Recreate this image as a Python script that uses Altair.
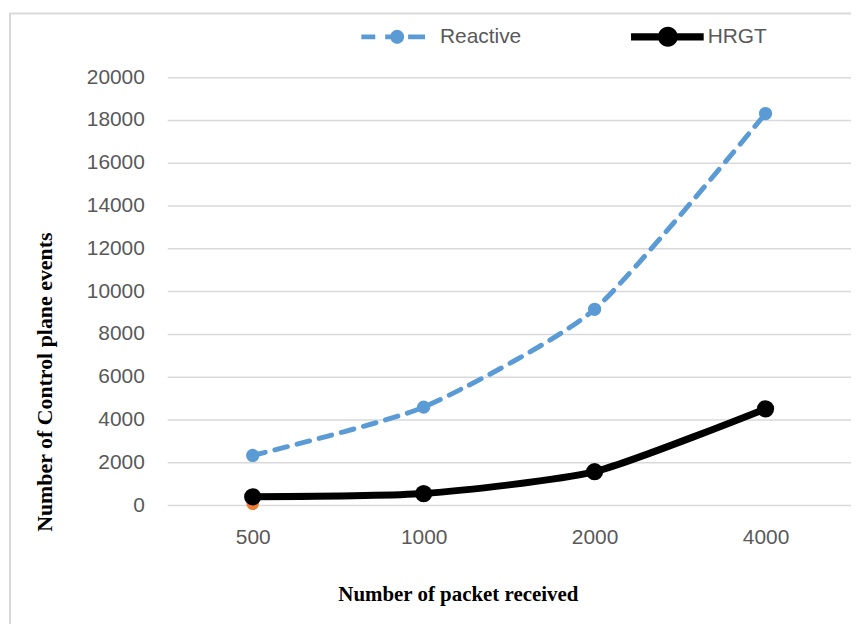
import math
import altair as alt
import pandas as pd

# ---- data ----
packets = ["500", "1000", "2000", "4000"]
reactive = [2320, 4580, 9150, 18300]
hrgt = [390, 540, 1560, 4500]
extra_packets = ["500"]
extra_values = [60]
y_ticks = [0, 2000, 4000, 6000, 8000, 10000, 12000, 14000, 16000, 18000, 20000]
series_names = ["Reactive", "HRGT"]
series_colors = ["#5b9bd5", "#000000"]

df = pd.DataFrame({
    "packets": packets * 2,
    "value": reactive + hrgt,
    "series": ["Reactive"] * len(packets) + ["HRGT"] * len(packets),
})
df_extra = pd.DataFrame({"packets": extra_packets, "value": extra_values})
df_frame = pd.DataFrame({"a": [0]})

# ---- custom legend symbols (line + marker) ----
U = 36.0


def rect(x0, x1, h):
    return (f"M{x0/U:.3f},{-h/U:.3f}L{x1/U:.3f},{-h/U:.3f}"
            f"L{x1/U:.3f},{h/U:.3f}L{x0/U:.3f},{h/U:.3f}Z")


def circ(cx, r, n=28):
    pts = []
    for i in range(n):
        t = 2 * math.pi * i / n
        pts.append(f"{(cx + r*math.cos(t))/U:.3f},{(r*math.sin(t))/U:.3f}")
    return "M" + "L".join(pts) + "Z"


path_reactive = rect(-39, -25, 2.4) + rect(-15, -5, 2.4) + circ(-3, 7) + rect(8, 25, 2.4)
path_hrgt = rect(-37, 36, 3.6) + circ(0, 10)

x_enc = alt.X("packets:O", sort=packets,
              scale=alt.Scale(type="point", padding=0.5, domain=packets),
              axis=alt.Axis(labelAngle=0, grid=False, labelPadding=39,
                            labelBaseline="alphabetic",
                            title="Number of packet received", titleFontSize=21,
                            titleX=292, titleY=96, titleAlign="center",
                            titleBaseline="alphabetic"))
y_enc = alt.Y("value:Q", scale=alt.Scale(domain=[0, 20000], nice=False),
              axis=alt.Axis(values=y_ticks, format="d", grid=True,
                            gridColor="#d9d9d9", gridWidth=1.5, labelPadding=23,
                            title="Number of Control plane events", titleFontSize=22,
                            titleX=-116, titleY=306, titleAngle=270,
                            titleAlign="center", titleBaseline="alphabetic"))

frame = alt.Chart(df_frame).mark_rect(fill=None, stroke="#d9d9d9", strokeWidth=2).encode(
    x=alt.value(-158), x2=alt.value(760), y=alt.value(-64), y2=alt.value(640)
)

base = alt.Chart(df)

extra_pt = alt.Chart(df_extra).mark_circle(size=160, color="#ed7d31", opacity=1).encode(
    x=x_enc, y=y_enc)

r_line = base.transform_filter(alt.datum.series == "Reactive").mark_line(
    color="#5b9bd5", strokeWidth=5, strokeDash=[13, 10], strokeCap="round",
    interpolate="cardinal", tension=0.4).encode(x=x_enc, y=y_enc)
r_pts = base.transform_filter(alt.datum.series == "Reactive").mark_circle(
    color="#5b9bd5", size=177, opacity=1).encode(x=x_enc, y=y_enc)

h_line = base.transform_filter(alt.datum.series == "HRGT").mark_line(
    color="#000000", strokeWidth=7, interpolate="cardinal", tension=0.4).encode(x=x_enc, y=y_enc)
h_pts = base.transform_filter(alt.datum.series == "HRGT").mark_circle(
    color="#000000", size=300, opacity=1).encode(x=x_enc, y=y_enc)

legend_layer = base.transform_filter("false").mark_point(filled=True, opacity=1).encode(
    x=x_enc, y=y_enc,
    color=alt.Color("series:N", scale=alt.Scale(domain=series_names, range=series_colors),
                    legend=alt.Legend(title=None)),
    shape=alt.Shape("series:N", scale=alt.Scale(domain=series_names,
                                                range=[path_reactive, path_hrgt]),
                    legend=alt.Legend(title=None)),
)

chart = alt.layer(frame, extra_pt, r_line, r_pts, h_line, h_pts, legend_layer).properties(
    width=687, height=430,
    autosize=alt.AutoSizeParams(type="none"),
    padding={"left": 160, "top": 68, "right": 0, "bottom": 118},
).configure_view(stroke=None).configure_axis(
    labelFont="Liberation Sans", labelFontSize=21, labelColor="#595959",
    titleFont="Liberation Serif", titleFontWeight="bold", titleColor="#000000",
    ticks=False, domain=False,
).configure_legend(
    orient="none", legendX=198, legendY=-77, direction="horizontal",
    symbolSize=5184, labelOffset=4, columnPadding=109, padding=0,
    labelFont="Liberation Sans", labelFontSize=21, labelColor="#595959",
    symbolStrokeWidth=0, symbolOpacity=1, labelLimit=0,
)

chart.save("out.html", embed_options={"renderer": "svg", "actions": False})
